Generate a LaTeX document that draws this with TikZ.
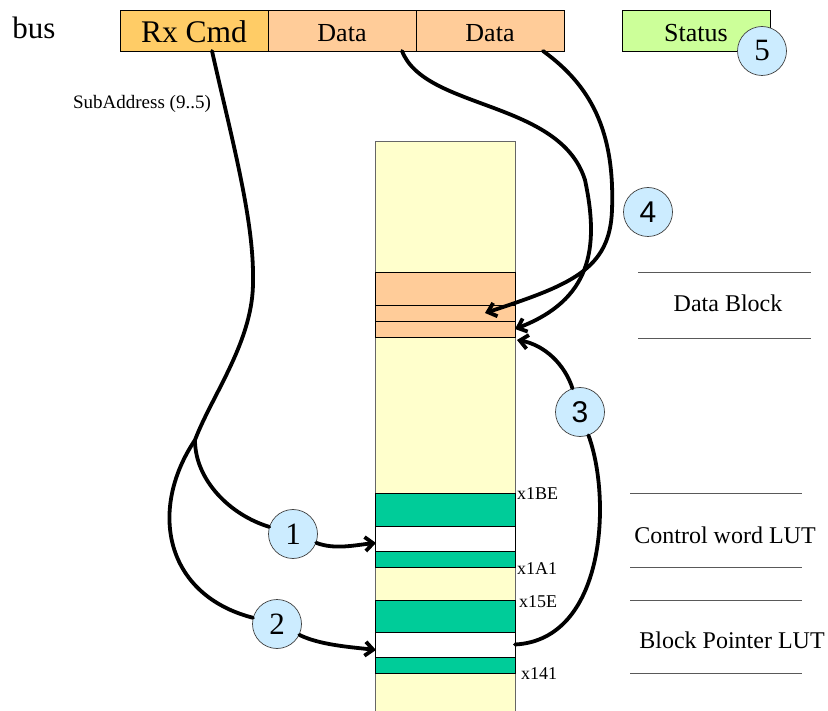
\documentclass[tikz,border=0pt]{standalone}
\usepackage{fontspec}
\setmainfont{Liberation Serif}
\newfontfamily\arialfont{Liberation Sans}
\usetikzlibrary{arrows.meta}
\definecolor{rxcol}{HTML}{FFCC66}
\definecolor{datacol}{HTML}{FFCC99}
\definecolor{statcol}{HTML}{CCFF99}
\definecolor{memcol}{HTML}{FFFFCC}
\definecolor{lutcol}{HTML}{00CC99}
\definecolor{circcol}{HTML}{CCECFF}
\begin{document}
\begin{tikzpicture}[x=1pt,y=-1pt,
  busbox/.style={draw=black, line width=0.8pt, inner sep=0pt, outer sep=0pt, minimum width=148pt, minimum height=41pt, text depth=0pt},
  row/.style={draw=black, line width=0.6pt, inner sep=0pt, outer sep=0pt, minimum width=140pt},
  num/.style={circle, draw=black!75, line width=0.7pt, fill=circcol, minimum size=49pt, inner sep=0pt, font=\fontsize{31}{31}\selectfont},
  conn/.style={line width=3.8pt, line cap=round, line join=round},
  arr/.style={conn, -{Straight Barb[length=8pt,width=14pt]}},
  side/.style={font=\fontsize{24}{24}\selectfont, inner sep=0pt},
  addr/.style={font=\fontsize{18}{18}\selectfont, anchor=west, inner sep=0pt},
  sepline/.style={draw=black!65, line width=0.8pt}]
\useasboundingbox (0,0) rectangle (828,711);

% bus
\node[font=\fontsize{31}{31}\selectfont, inner sep=0pt, anchor=base] (bus) at (34,38.5) {bus};
\node[busbox, fill=rxcol, font=\fontsize{31.5}{31.5}\selectfont, text height=24pt] (rx) at (194,30.5) {Rx Cmd};
\node[busbox, fill=datacol, font=\fontsize{26}{26}\selectfont, text height=22.5pt] (d1) at (342,30.5) {Data};
\node[busbox, fill=datacol, font=\fontsize{26}{26}\selectfont, text height=22.5pt] (d2) at (490,30.5) {Data};
\node[busbox, fill=statcol, font=\fontsize{26}{26}\selectfont, text height=22.5pt] (st) at (696,30.5) {Status};
\node[font=\fontsize{19}{19}\selectfont, inner sep=0pt] (sub) at (142,104) {SubAddress (9..5)};

% memory column
\node[draw=black!60, line width=0.8pt, fill=memcol, inner sep=0pt, outer sep=0pt, minimum width=140pt, minimum height=574pt] (mem) at (445,428) {};
\node[row, fill=datacol, minimum height=33pt] (dbA) at (445,288.5) {};
\node[row, fill=datacol, minimum height=16pt] (dbB) at (445,313) {};
\node[row, fill=datacol, minimum height=16pt] (dbC) at (445,329) {};
\node[row, fill=lutcol, minimum height=33pt] (g1) at (445,509.5) {};
\node[row, fill=white, minimum height=25pt] (w1) at (445,538.5) {};
\node[row, fill=lutcol, minimum height=16pt] (g2) at (445,559) {};
\node[row, fill=lutcol, minimum height=32pt] (g3) at (445,616) {};
\node[row, fill=white, minimum height=25pt] (w2) at (445,644.5) {};
\node[row, fill=lutcol, minimum height=16pt] (g4) at (445,665) {};

\node[addr] (a1) at (517,494) {x1BE};
\node[addr] (a2) at (517,568.5) {x1A1};
\node[addr] (a3) at (519,602) {x15E};
\node[addr] (a4) at (521,674) {x141};

% right-side legend
\draw[sepline] (638,272) -- (811,272);
\draw[sepline] (638,338) -- (811,338);
\node[side] (ldb) at (728,303) {Data Block};
\draw[sepline] (630,493) -- (802,493);
\draw[sepline] (630,567) -- (802,567);
\node[side] (lcw) at (725,535) {Control word LUT};
\draw[sepline] (630,600) -- (802,600);
\draw[sepline] (630,673) -- (802,673);
\node[side] (lbp) at (732,640) {Block Pointer LUT};

% circles
\node[num] (c1) at (293,534) {1};
\node[num] (c2) at (277,624) {2};
\node[num, font=\arialfont\fontsize{30}{30}\selectfont] (c3) at (580,412) {3};
\node[num, font=\arialfont\fontsize{30}{30}\selectfont] (c4) at (648,212) {4};
\node[num] (c5) at (762,51) {5};

% helper coordinates
\coordinate (cusp) at (195,440);
\coordinate (t1) at (376,543);
\coordinate (t2) at (376,650);
\coordinate (t3) at (517,340);

% connectors from Rx Cmd
\draw[conn] ([xshift=18pt]rx.south) .. controls (232,140) and (254,220) .. (253,280)
  .. controls (254,340) and (212,395) .. (cusp);
\draw[conn] (cusp) .. controls (195,480) and (230,515) .. (c1);
\draw[arr] (c1) .. controls (335,550) and (355,545) .. (t1);
\draw[conn] (cusp) .. controls (148,510) and (165,595) .. (c2);
\draw[arr] (c2) .. controls (320,645) and (350,647) .. (t2);

% data connectors
\draw[arr] ([xshift=60pt]d1.south) .. controls (425,110) and (560,100) .. (585,180)
  .. controls (600,250) and (590,300) .. (dbC.east);
\draw[arr] ([xshift=53pt]d2.south) .. controls (590,85) and (615,130) .. (612,210)
  .. controls (610,270) and (570,285) .. ([xshift=40pt]dbB.center);

% block pointer to data block
\draw[conn] (w2.east) .. controls (605,640) and (612,500) .. (c3);
\draw[arr] (c3) .. controls (565,365) and (545,345) .. (t3);
\end{tikzpicture}
\end{document}
